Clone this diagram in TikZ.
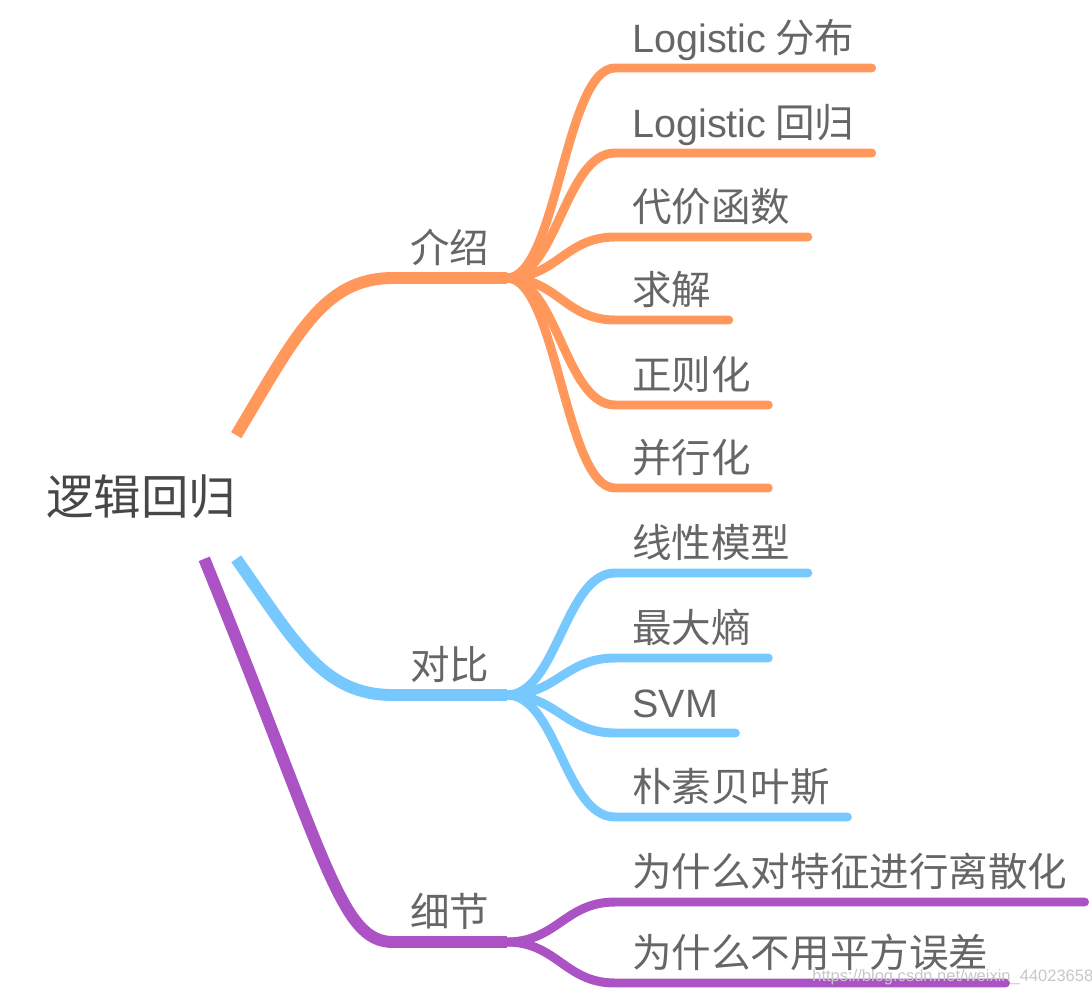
\documentclass[tikz,border=0pt]{standalone}
\usepackage{fontspec}
\setmainfont{Noto Sans CJK SC}
\newfontfamily\wmfont{Liberation Sans}
\newfontfamily\lat{Liberation Sans}
\usetikzlibrary{calc}
\definecolor{brorange}{HTML}{FF985A}
\definecolor{brblue}{HTML}{77C8FF}
\definecolor{brpurple}{HTML}{AB52C4}
\definecolor{txtgray}{HTML}{666666}

\begin{document}
\begin{tikzpicture}[x=0.02cm,y=-0.02cm,
    leaf/.style={anchor=south west,inner xsep=0.34cm,inner ysep=0pt,text depth=0.3cm,
      text=txtgray,font=\fontsize{22.5}{27}\selectfont},
    twig/.style={line width=5.1pt,line cap=round},
    limb/.style={line width=6.8pt}]
  \useasboundingbox (0,0) rectangle (1092,994);
  \node [inner xsep=0pt,minimum height=2.46cm,text=black!72,
    font=\fontsize{27}{32}\selectfont] (R) at (141,497) {逻辑回归};
  \coordinate (Rp) at ($(R.south east)+(-32,0)$);
  \node [leaf] (A) at (393,278) {介绍};
  \node [leaf] (B) at (393,695) {对比};
  \node [leaf] (C) at (393,942) {细节};
  \draw [limb,brorange] (R.north east) .. controls +(60,-100) and +(-70,0) .. (A.south west) -- (A.south east);
  \draw [limb,brblue] (R.south east) .. controls +(60,85) and +(-70,0) .. (B.south west) -- (B.south east);
  \draw [limb,brpurple] (Rp) .. controls +(123,302) and +(-53,0) .. (C.south west) -- (C.south east);
  \foreach \t/\y [count=\i] in {{\lat Logistic} 分布/68,{\lat Logistic} 回归/153,代价函数/237,求解/320,正则化/405,并行化/488}{
    \node [leaf] (A\i) at (615,\y) {\t};
    \draw [twig,brorange] (A.south east) .. controls +(50,0) and +(-50,0) .. (A\i.south west) -- (A\i.south east);
  }
  \foreach \t/\y [count=\i] in {线性模型/573,最大熵/658,{\lat SVM}/733,朴素贝叶斯/817}{
    \node [leaf] (B\i) at (615,\y) {\t};
    \draw [twig,brblue] (B.south east) .. controls +(50,0) and +(-50,0) .. (B\i.south west) -- (B\i.south east);
  }
  \foreach \t/\y [count=\i] in {为什么对特征进行离散化/902,为什么不用平方误差/983}{
    \node [leaf] (C\i) at (615,\y) {\t};
    \draw [twig,brpurple] (C.south east) .. controls +(50,0) and +(-50,0) .. (C\i.south west) -- (C\i.south east);
  }
  \node [anchor=base west,inner sep=0pt,text=black!22,
    font=\wmfont\fontsize{9.4}{11}\selectfont] (W) at (812,981) {https://blog.csdn.net/weixin\_44023658};
\end{tikzpicture}
\end{document}
